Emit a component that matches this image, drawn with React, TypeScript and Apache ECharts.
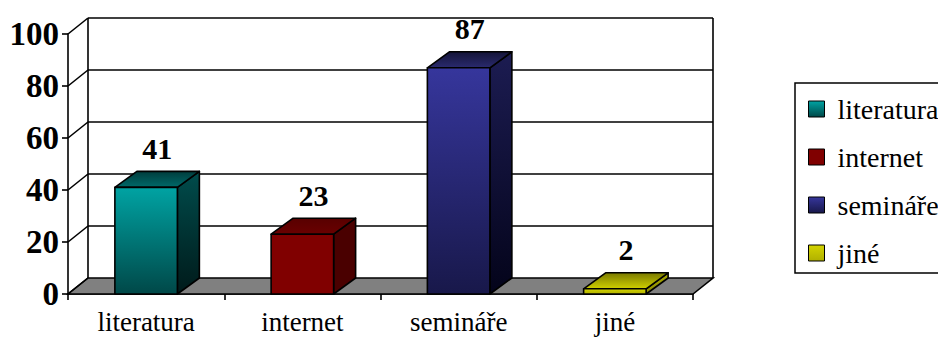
import React, { useEffect, useRef } from "react";
import * as echarts from "echarts";

const categories = ["literatura", "internet", "semináře", "jiné"];
const values = [41, 23, 87, 2];
const yTicks = [0, 20, 40, 60, 80, 100];

// Colours for each bar: front face (top->bottom), side face, top face
const frontColors = [
  ["#00a3a3", "#004848"],
  ["#800000", "#800000"],
  ["#36369c", "#18184a"],
  ["#d4d400", "#b0b000"],
];
const sideColors = [
  ["#004c4c", "#001a1a"],
  ["#4a0000", "#4a0000"],
  ["#1c1c52", "#04041a"],
  ["#a8a800", "#8a8a00"],
];
const topColors = [
  ["#003c3c", "#006a6a"],
  ["#580000", "#6a0000"],
  ["#141438", "#2a2a6e"],
  ["#7a7a00", "#d0d000"],
];

const SERIF = "'Liberation Serif', 'Times New Roman', serif";
const WALL_DX = 20;
const WALL_DY = -16;
const BAR_DX = 22;
const BAR_DY = -16;

const grad = (c: string[]) =>
  new echarts.graphic.LinearGradient(0, 0, 0, 1, [
    { offset: 0, color: c[0] },
    { offset: 1, color: c[1] },
  ]);

export default function App() {
  const ref = useRef<HTMLDivElement>(null);

  useEffect(() => {
    if (!ref.current) return;
    const chart = echarts.init(ref.current, null, { renderer: "svg" });

    const wallSeries: any = {
      type: "custom",
      name: "wall",
      z: 1,
      silent: true,
      clip: false,
      data: yTicks.map((v) => [0, v]),
      encode: { x: 0, y: 1 },
      renderItem: (params: any, api: any) => {
        const cs = params.coordSys;
        const x0 = cs.x;
        const x1 = cs.x + cs.width;
        const v = api.value(1);
        const y = api.coord([0, v])[1];
        const children: any[] = [];
        const line = { stroke: "#000", lineWidth: 1.6 };
        if (params.dataIndex === 0) {
          const yTop = api.coord([0, yTicks[yTicks.length - 1]])[1];
          children.push({
            type: "polygon",
            shape: {
              points: [
                [x0, y],
                [x1, y],
                [x1 + WALL_DX, y + WALL_DY],
                [x0 + WALL_DX, y + WALL_DY],
              ],
            },
            style: { fill: "#808080", stroke: "#000", lineWidth: 1.6 },
          });
          children.push({
            type: "line",
            shape: { x1: x0 + WALL_DX, y1: yTop + WALL_DY, x2: x0 + WALL_DX, y2: y + WALL_DY },
            style: line,
          });
          children.push({
            type: "line",
            shape: { x1: x1 + WALL_DX, y1: yTop + WALL_DY, x2: x1 + WALL_DX, y2: y + WALL_DY },
            style: line,
          });
        } else {
          children.push({
            type: "line",
            shape: { x1: x0 + WALL_DX, y1: y + WALL_DY, x2: x1 + WALL_DX, y2: y + WALL_DY },
            style: line,
          });
        }
        children.push({
          type: "line",
          shape: { x1: x0, y1: y, x2: x0 + WALL_DX, y2: y + WALL_DY },
          style: line,
        });
        return { type: "group", children };
      },
    };

    const barSeries = categories.map((name, k) => ({
      type: "custom",
      name,
      z: 3,
      clip: false,
      itemStyle: { color: grad(frontColors[k]), borderColor: "#000", borderWidth: 1 },
      data: [[k, values[k]]],
      encode: { x: 0, y: 1 },
      renderItem: (params: any, api: any) => {
        const idx = api.value(0);
        const val = api.value(1);
        const [cx, yTop] = api.coord([idx, val]);
        const yBase = api.coord([idx, 0])[1];
        const w = api.size([1, 0])[0] * 0.4;
        const x0 = cx - w / 2;
        const x1 = cx + w / 2;
        const edge = { stroke: "#000", lineWidth: 1.6, lineJoin: "round" };
        return {
          type: "group",
          children: [
            {
              type: "polygon",
              shape: {
                points: [
                  [x1, yTop],
                  [x1 + BAR_DX, yTop + BAR_DY],
                  [x1 + BAR_DX, yBase + BAR_DY],
                  [x1, yBase],
                ],
              },
              style: { fill: grad(sideColors[k]), ...edge },
            },
            {
              type: "polygon",
              shape: {
                points: [
                  [x0, yTop],
                  [x0 + BAR_DX, yTop + BAR_DY],
                  [x1 + BAR_DX, yTop + BAR_DY],
                  [x1, yTop],
                ],
              },
              style: { fill: grad(topColors[k]), ...edge },
            },
            {
              type: "rect",
              shape: { x: x0, y: yTop, width: w, height: yBase - yTop },
              style: { fill: grad(frontColors[k]), ...edge },
            },
            {
              type: "text",
              x: cx + BAR_DX / 2,
              y: yTop + BAR_DY - 8,
              style: {
                text: String(val),
                font: `bold 30px ${SERIF}`,
                fill: "#000",
                align: "center",
                verticalAlign: "bottom",
              },
            },
          ],
        };
      },
    }));

    chart.setOption({
      animation: false,
      backgroundColor: "#fff",
      grid: { left: 68, top: 34, right: 245, bottom: 44 },
      xAxis: {
        type: "category",
        data: categories,
        boundaryGap: true,
        axisLine: { show: true, lineStyle: { color: "#000", width: 1.6 } },
        axisTick: { show: true, length: 6, lineStyle: { color: "#000", width: 1.6 } },
        axisLabel: { color: "#000", fontSize: 27, fontFamily: SERIF, margin: 14 },
        splitLine: { show: false },
      },
      yAxis: {
        type: "value",
        min: 0,
        max: 100,
        interval: 20,
        axisLine: { show: true, lineStyle: { color: "#000", width: 1.6 } },
        axisTick: { show: true, length: 6, lineStyle: { color: "#000", width: 1.6 } },
        axisLabel: {
          color: "#000",
          fontSize: 33,
          fontWeight: "bold",
          fontFamily: SERIF,
          margin: 9,
        },
        splitLine: { show: false },
      },
      legend: {
        data: categories,
        orient: "vertical",
        left: 795,
        top: 83,
        padding: [11, 40, 5, 13],
        itemGap: 18,
        itemWidth: 16,
        itemHeight: 16,
        icon: "rect",
        selectedMode: false,
        borderColor: "#000",
        borderWidth: 1.5,
        itemStyle: { borderColor: "#000", borderWidth: 1 },
        textStyle: {
          color: "#000",
          fontSize: 28,
          fontFamily: SERIF,
          lineHeight: 30,
          padding: [0, 0, 0, 8],
        },
      },
      series: [wallSeries, ...barSeries],
    });

    return () => chart.dispose();
  }, []);

  return (
    <div
      ref={ref}
      style={{ position: "fixed", left: 0, top: 0, width: 938, height: 338 }}
    />
  );
}
